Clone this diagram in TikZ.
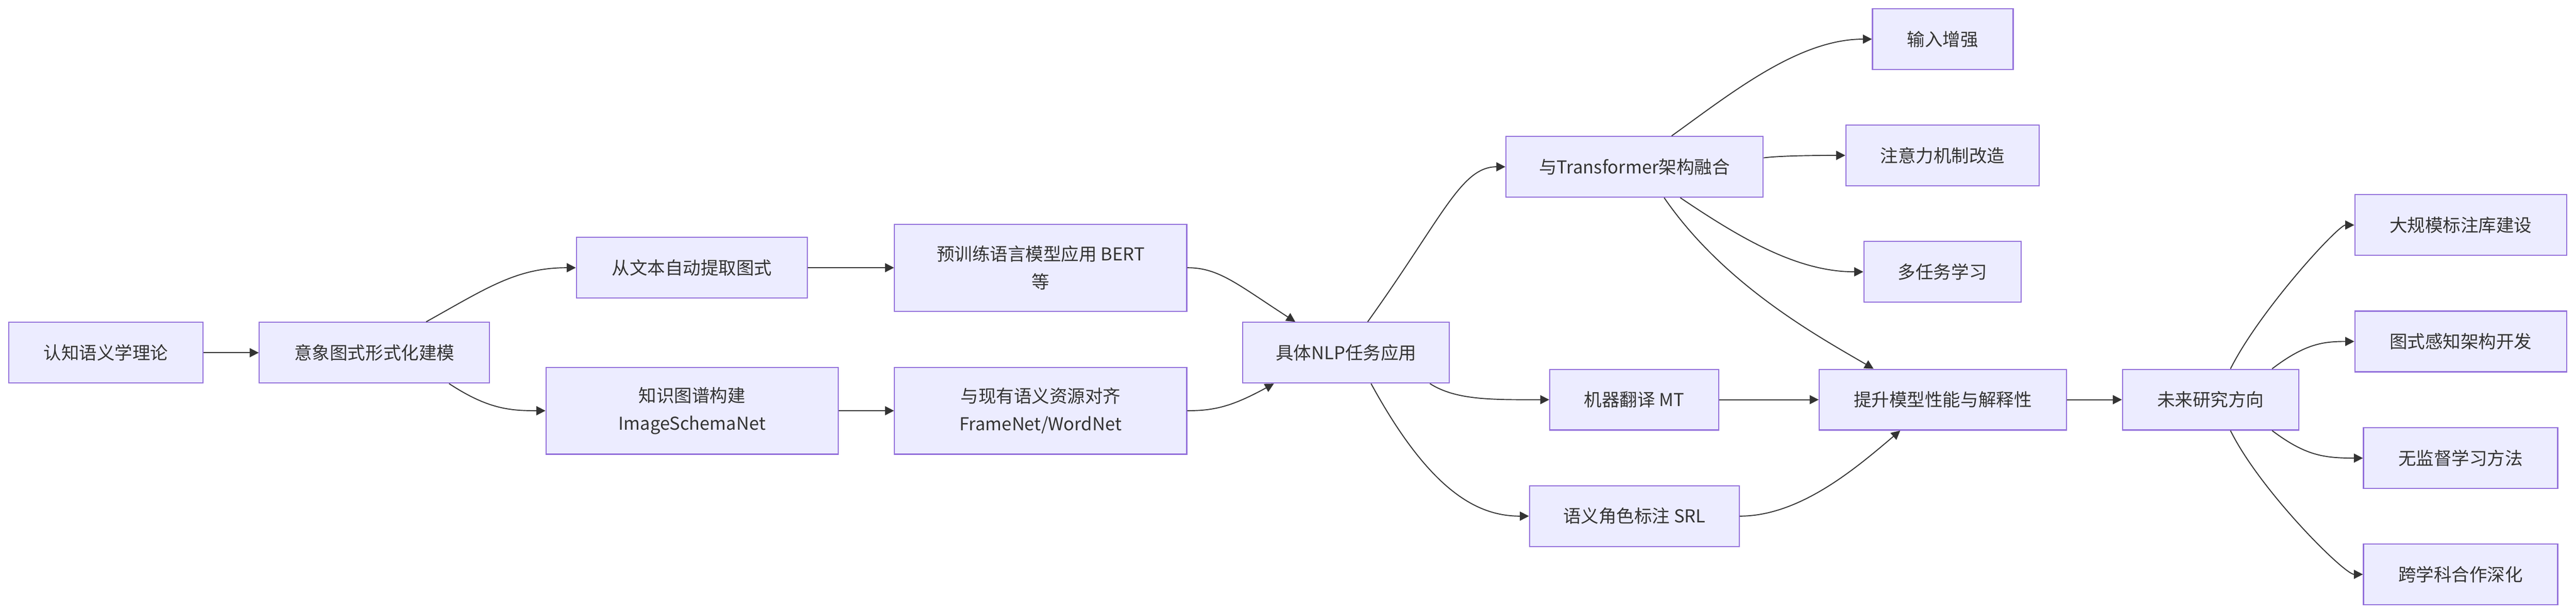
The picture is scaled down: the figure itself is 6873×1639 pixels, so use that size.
\documentclass[tikz,border=0pt]{standalone}
\usepackage{fontspec}
\setmainfont{Noto Sans CJK SC}
\usepackage{tikz}
\usetikzlibrary{arrows.meta}
\usetikzlibrary{calc}

\definecolor{boxfill}{HTML}{ECECFF}
\definecolor{boxline}{HTML}{9370DB}
\definecolor{linegray}{HTML}{333333}

\tikzset{
        box/.style={rectangle, draw=boxline, fill=boxfill, line width=0.85pt,
                text=linegray, inner sep=0pt, minimum height=1.62cm, align=center,
                font=\fontsize{13.5pt}{21pt}\selectfont},
        tallbox/.style={box, minimum height=2.32cm},
        edge/.style={draw=linegray, line width=0.75pt,
                -{Triangle[length=0.24cm,width=0.24cm]}}
}

\begin{document}
\begin{tikzpicture}[x=0.01cm, y=-0.01cm]
        \useasboundingbox (0,0) rectangle (6873,1639);

        \node[box, minimum width=5.19cm] (renzhi) at (282.5,942) {认知语义学理论};
        \node[box, minimum width=6.14cm] (yixiang) at (999,942) {意象图式形式化建模};

        \node[box, minimum width=6.16cm] (tiqu) at (1846,715) {从文本自动提取图式};
        \node[tallbox, minimum width=7.79cm] (zhishi) at (1846.5,1097) {知识图谱构建\\ImageSchemaNet};
        \node[tallbox, minimum width=7.79cm] (yuxunlian) at (2776.5,715) {预训练语言模型应用 BERT\\等};
        \node[tallbox, minimum width=7.79cm] (duiqi) at (2776.5,1097) {与现有语义资源对齐\\FrameNet/WordNet};

        \node[box, minimum width=5.51cm] (nlp) at (3591.5,942) {具体NLP任务应用};

        \node[box, minimum width=6.86cm] (transformer) at (4361,445.5) {与Transformer架构融合};
        \node[box, minimum width=4.50cm] (fanyi) at (4360,1067.5) {机器翻译 MT};
        \node[box, minimum width=5.59cm] (srl) at (4360.5,1378.5) {语义角色标注 SRL};

        \node[box, minimum width=3.75cm] (shuru) at (5183.5,104.5) {输入增强};
        \node[box, minimum width=5.16cm] (zhuyili) at (5183,415) {注意力机制改造};
        \node[box, minimum width=4.19cm] (duorenwu) at (5182.5,726) {多任务学习};
        \node[box, minimum width=6.59cm] (tisheng) at (5183.5,1067.5) {提升模型性能与解释性};

        \node[box, minimum width=4.70cm] (weilai) at (5898,1067.5) {未来研究方向};

        \node[box, minimum width=5.65cm] (guimo) at (6565.5,601) {大规模标注库建设};
        \node[box, minimum width=5.65cm] (tushi) at (6565.5,912) {图式感知架构开发};
        \node[box, minimum width=5.18cm] (wujiandu) at (6565,1223.5) {无监督学习方法};
        \node[box, minimum width=5.18cm] (kuaxueke) at (6565,1534) {跨学科合作深化};

        \draw[edge] (renzhi.east) -- (yixiang.west);
        \draw[edge] ([xshift=1.38cm]yixiang.north) .. controls +(163,-91) and +(-158,0) .. (tiqu.west);
        \draw[edge] ([xshift=1.99cm]yixiang.south) .. controls +(102,67) and +(-97,0) .. (zhishi.west);
        \draw[edge] (tiqu.east) -- (yuxunlian.west);
        \draw[edge] (zhishi.east) -- (duiqi.west);
        \draw[edge] (yuxunlian.east) .. controls +(84,0) and +(-156,-101) .. ([xshift=-1.355cm]nlp.north);
        \draw[edge] (duiqi.east) .. controls +(74,0) and +(-110,60) .. ([xshift=-1.925cm]nlp.south);

        \draw[edge] ([xshift=0.575cm]nlp.north) .. controls +(201,-281) and +(-118,0) .. (transformer.west);
        \draw[edge] ([xshift=2.235cm]nlp.south) .. controls +(70,45) and +(-150,0) .. (fanyi.west);
        \draw[edge] ([xshift=0.665cm]nlp.south) .. controls +(162,297) and +(-131,0) .. (srl.west);

        \draw[edge] ([xshift=0.99cm]transformer.north) .. controls +(160,-115) and +(-196,0) .. (shuru.west);
        \draw[edge] ([yshift=0.24cm]transformer.east) .. controls +(40,-5) and +(-100,0) .. (zhuyili.west);
        \draw[edge] ([xshift=1.22cm]transformer.south) .. controls +(167,113) and +(-173,0) .. (duorenwu.west);
        \draw[edge] ([xshift=0.79cm]transformer.south) .. controls +(160,233) and +(-149,-87) .. ([xshift=-1.845cm]tisheng.north);
        \draw[edge] (fanyi.east) -- (tisheng.west);
        \draw[edge] (srl.east) .. controls +(160,0) and +(-120,102) .. ([xshift=-1.135cm]tisheng.south);

        \draw[edge] (tisheng.east) -- (weilai.west);
        \draw[edge] ([xshift=0.53cm]weilai.north) .. controls +(79,-157) and +(-43,0) .. (guimo.west);
        \draw[edge] ([xshift=1.64cm]weilai.north) .. controls +(88,-67) and +(-83,0) .. (tushi.west);
        \draw[edge] ([xshift=1.64cm]weilai.south) .. controls +(88,66) and +(-106,0) .. (wujiandu.west);
        \draw[edge] ([xshift=0.53cm]weilai.south) .. controls +(79,160) and +(-50,0) .. (kuaxueke.west);

\end{tikzpicture}
\end{document}
